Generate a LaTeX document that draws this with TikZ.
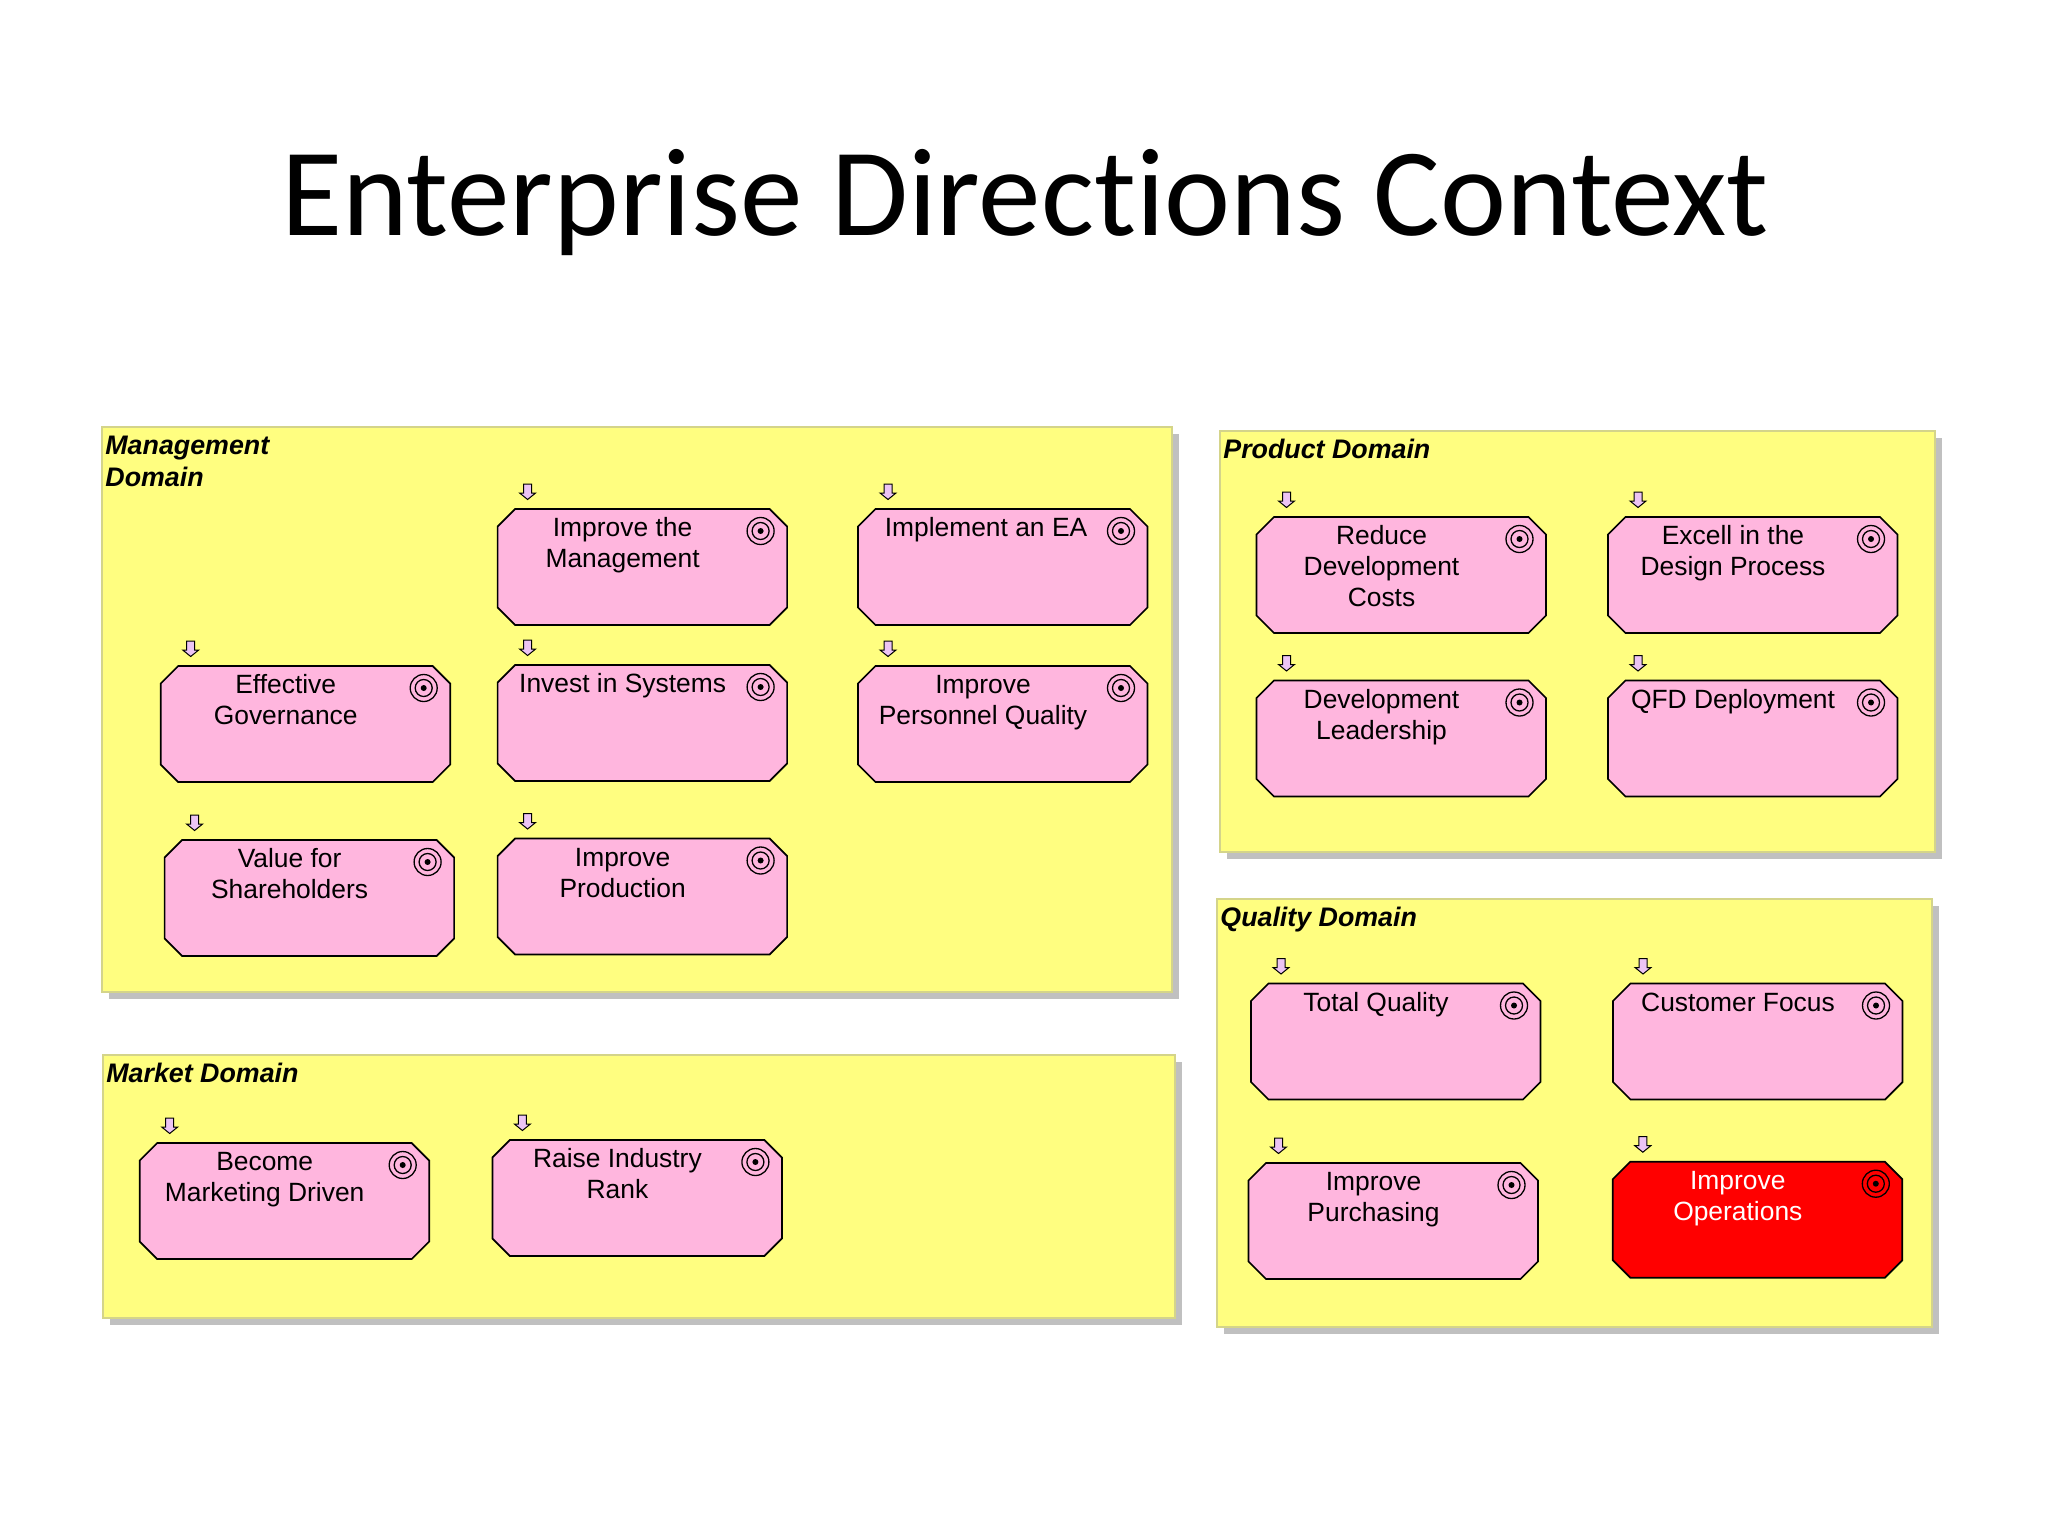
\documentclass[tikz,border=0pt]{standalone}
\usepackage{fontspec}
\setmainfont{Liberation Sans}
\newfontfamily\titlefont[Ligatures=NoCommon]{Carlito}
\definecolor{domainyellow}{HTML}{FFFE80}
\definecolor{domainedge}{HTML}{D4D48A}
\definecolor{domainshadow}{HTML}{C0C0C0}
\definecolor{goalpink}{HTML}{FFB6DE}
\definecolor{arrowlilac}{HTML}{ECC4F4}
\tikzset{
  x=0.5pt,y=-0.5pt,
  domainbox/.style={fill=domainyellow,draw=domainedge,line width=0.6pt},
  domainshade/.style={fill=domainshadow,draw=none},
  domainlabel/.style={anchor=north west,inner sep=0pt,align=left,font=\fontsize{13.4}{15.8}\selectfont\bfseries\itshape},
  goalshape/.style={draw=black,line width=0.85pt,line join=miter},
  goaltext/.style={anchor=north,inner sep=0pt,align=center,font=\fontsize{13.2}{15.5}\selectfont},
  ringline/.style={draw=black,line width=0.65pt},
  tickarrow/.style={fill=arrowlilac,draw=black,line width=0.5pt},
}
\newcommand{\strutline}{\rule{0pt}{10pt}}
% #1 fill, #2 text colour, #3 name, #4 left, #5 top, #6 text
\newcommand{\goalitem}[6]{%
  \begin{scope}[shift={(#4,#5)}]
    \draw[goalshape,fill=#1] (17.5,0) -- (272,0) -- (289.5,17.5) -- (289.5,98.5) -- (272,116) -- (17.5,116) -- (0,98.5) -- (0,17.5) -- cycle;
    \node[goaltext,text=#2] (#3) at (125,7.5) {\strutline #6};
    \draw[ringline] (263,22) circle[radius=13.5];
    \draw[ringline] (263,22) circle[radius=8.5];
    \fill[black] (263,22) circle[radius=3];
    \draw[tickarrow] (26,-25) -- (34,-25) -- (34,-16) -- (38,-16) -- (30,-9.5) -- (22,-16) -- (26,-16) -- cycle;
  \end{scope}}
\newcommand{\domainitem}[6]{% name, x1,y1,x2,y2, label
  \fill[domainshade] (#2+7,#3+7) rectangle (#4+7,#5+7);
  \draw[domainbox] (#2,#3) rectangle (#4,#5);
  \node[domainlabel] (#1) at (#2+3,#3+7) {\strutline #6};}
\begin{document}
\begin{tikzpicture}
\useasboundingbox (0,0) rectangle (2048,1536);
\fill[white] (0,0) rectangle (2048,1536);
\node[anchor=base,inner sep=0pt,font=\fontsize{62.6}{70}\selectfont\titlefont] (title) at (1025,235) {Enterprise Directions Context};

\domainitem{mgmt}{102}{427}{1172}{992}{Management\\Domain}
\domainitem{market}{103}{1055}{1175}{1318}{Market Domain}
\domainitem{product}{1220}{431}{1935}{852}{Product Domain}
\domainitem{quality}{1217}{899}{1932}{1327}{Quality Domain}

\goalitem{goalpink}{black}{g1}{497.6}{509}{Improve the\\Management}
\goalitem{goalpink}{black}{g2}{858}{509}{\hspace*{3pt}Implement an EA}
\goalitem{goalpink}{black}{g3}{160.7}{666}{Effective\\Governance}
\goalitem{goalpink}{black}{g4}{497.6}{665}{Invest in Systems}
\goalitem{goalpink}{black}{g5}{858}{666}{Improve\\Personnel Quality}
\goalitem{goalpink}{black}{g6}{164.6}{840}{Value for\\Shareholders}
\goalitem{goalpink}{black}{g7}{497.6}{838.5}{Improve\\Production}

\goalitem{goalpink}{black}{g8}{1256.5}{517}{Reduce\\Development\\Costs}
\goalitem{goalpink}{black}{g9}{1608}{517}{Excell in the\\Design Process}
\goalitem{goalpink}{black}{g10}{1256.5}{680.5}{Development\\Leadership}
\goalitem{goalpink}{black}{g11}{1608}{680.5}{QFD Deployment}

\goalitem{goalpink}{black}{g12}{1251}{983.5}{Total Quality}
\goalitem{goalpink}{black}{g13}{1613}{983.5}{Customer Focus}
\goalitem{goalpink}{black}{g14}{1248.5}{1163}{Improve\\Purchasing}
\goalitem{red}{white}{g15}{1612.8}{1161.7}{Improve\\Operations}

\goalitem{goalpink}{black}{g16}{139.7}{1143}{Become\\Marketing Driven}
\goalitem{goalpink}{black}{g17}{492.4}{1140}{Raise Industry\\Rank}
\end{tikzpicture}
\end{document}
